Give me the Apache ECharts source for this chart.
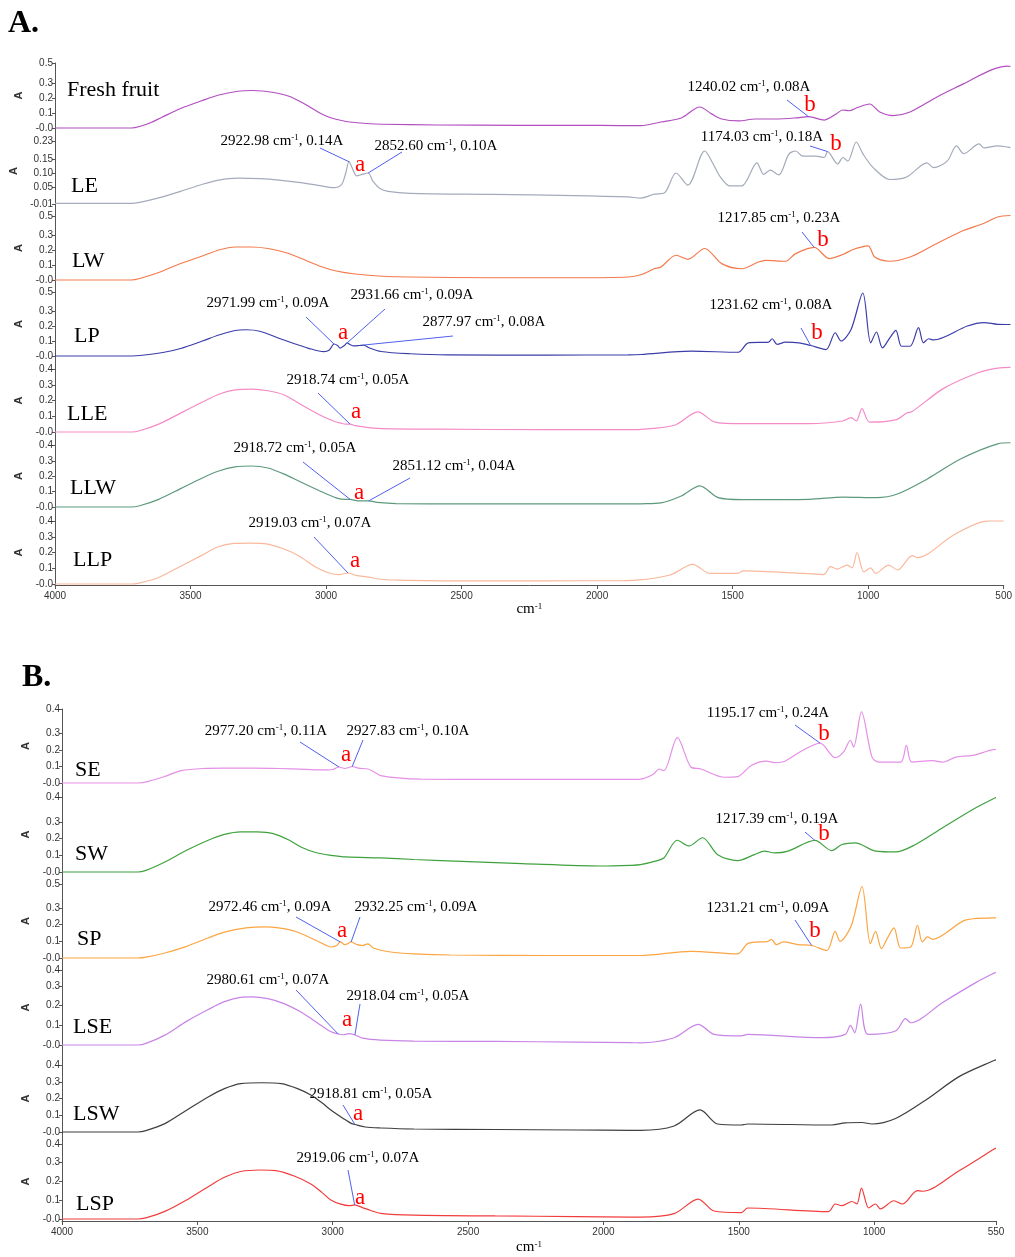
<!DOCTYPE html>
<html>
<head>
<meta charset="utf-8">
<script src="https://cdn.jsdelivr.net/npm/echarts@6/dist/echarts.min.js"></script>
<style>
  html, body { margin: 0; padding: 0; background: #fff; }
  #main { width: 1015px; height: 1257px; }
</style>
</head>
<body>
<div id="main"></div>
<script>
// ===== 数据：波数 (cm-1) 与吸光度 (A) =====
var xTicksA = [500, 1000, 1500, 2000, 2500, 3000, 3500, 4000];
var xTicksB = [550, 1000, 1500, 2000, 2500, 3000, 3500, 4000];

var namesA = ['Fresh fruit', 'LE', 'LW', 'LP', 'LLE', 'LLW', 'LLP'];
var namesB = ['SE', 'SW', 'SP', 'LSE', 'LSW', 'LSP'];

// y 轴刻度值与刻度文字（最后一个刻度在坐标轴顶端）
var yTicksLE = [-0.01, 0.05, 0.10, 0.15];
var yLabelsLE = ['-0.01', '0.05', '0.10', '0.15', '0.23'];
var yTicks = [0, 0.1, 0.2, 0.3];
var yLabels5 = ['-0.0', '0.1', '0.2', '0.3', '0.5'];
var yLabels4 = ['-0.0', '0.1', '0.2', '0.3', '0.4'];

var freshFruit = [[4000,0],[3720,0],[3690,0.01],[3650,0.035],[3610,0.07],[3540,0.13],[3465,0.18],[3400,0.22],[3330,0.245],[3280,0.25],[3230,0.245],[3180,0.23],[3140,0.21],[3100,0.175],[3067,0.14],[3030,0.1],[2993,0.07],[2950,0.05],[2920,0.04],[2860,0.03],[2800,0.025],[2600,0.02],[2300,0.018],[2000,0.017],[1854,0.016],[1780,0.04],[1706,0.067],[1638,0.14],[1595,0.094],[1558,0.06],[1497,0.047],[1435,0.06],[1361,0.06],[1287,0.067],[1240,0.076],[1182,0.053],[1139,0.093],[1115,0.12],[1090,0.115],[1065,0.133],[1016,0.16],[979,0.107],[930,0.083],[868,0.107],[769,0.207],[671,0.296],[572,0.386],[510,0.413],[500,0.41]];
var le = [[4000,-0.008],[3720,-0.008],[3690,-0.004],[3620,0.012],[3540,0.035],[3460,0.06],[3400,0.075],[3330,0.082],[3250,0.08],[3180,0.075],[3100,0.066],[3030,0.055],[2980,0.048],[2950,0.06],[2935,0.1],[2923,0.14],[2910,0.115],[2895,0.09],[2875,0.095],[2853,0.1],[2835,0.07],[2810,0.045],[2780,0.035],[2700,0.028],[2400,0.024],[2100,0.02],[1900,0.015],[1854,0.011],[1805,0.025],[1768,0.029],[1725,0.1],[1682,0.057],[1620,0.178],[1589,0.132],[1565,0.089],[1527,0.054],[1484,0.054],[1429,0.136],[1404,0.095],[1380,0.11],[1349,0.093],[1312,0.167],[1287,0.178],[1262,0.16],[1213,0.16],[1182,0.155],[1170,0.176],[1133,0.132],[1114,0.155],[1096,0.142],[1065,0.21],[1040,0.167],[1003,0.119],[942,0.077],[880,0.086],[806,0.136],[782,0.119],[732,0.142],[698,0.196],[671,0.169],[615,0.203],[597,0.189],[547,0.196],[510,0.192],[500,0.19]];
var lw = [[4000,0],[3720,0],[3690,0.01],[3620,0.05],[3540,0.11],[3460,0.16],[3400,0.2],[3340,0.22],[3280,0.22],[3220,0.21],[3150,0.18],[3080,0.13],[3026,0.09],[2970,0.06],[2900,0.04],[2800,0.025],[2700,0.02],[2400,0.015],[2100,0.015],[1900,0.02],[1854,0.035],[1805,0.075],[1780,0.087],[1725,0.165],[1682,0.138],[1620,0.21],[1558,0.109],[1484,0.075],[1423,0.12],[1398,0.131],[1324,0.125],[1287,0.176],[1219,0.217],[1164,0.143],[1114,0.17],[1077,0.203],[1022,0.227],[997,0.153],[942,0.125],[868,0.153],[794,0.22],[683,0.322],[597,0.378],[547,0.42],[500,0.43]];
var lp = [[4000,0],[3720,0],[3680,0.005],[3600,0.025],[3540,0.05],[3460,0.1],[3400,0.14],[3340,0.17],[3300,0.175],[3250,0.165],[3172,0.113],[3120,0.08],[3074,0.053],[3015,0.029],[2995,0.04],[2978,0.08],[2965,0.07],[2956,0.053],[2940,0.07],[2930,0.087],[2918,0.075],[2905,0.067],[2885,0.07],[2870,0.073],[2850,0.055],[2806,0.03],[2700,0.015],[2561,0.007],[2200,0.006],[1900,0.008],[1854,0.01],[1669,0.032],[1497,0.025],[1460,0.088],[1386,0.093],[1373,0.115],[1355,0.077],[1324,0.093],[1275,0.088],[1232,0.07],[1176,0.043],[1142,0.155],[1121,0.1],[1084,0.177],[1041,0.42],[1012,0.088],[991,0.16],[969,0.054],[942,0.121],[920,0.171],[899,0.065],[868,0.065],[837,0.189],[819,0.088],[800,0.115],[782,0.107],[658,0.2],[597,0.223],[547,0.211],[500,0.21]];
var lle = [[4000,0],[3720,0],[3690,0.008],[3620,0.05],[3540,0.12],[3460,0.19],[3400,0.24],[3340,0.268],[3280,0.272],[3220,0.262],[3160,0.235],[3100,0.175],[3030,0.108],[2980,0.07],[2950,0.055],[2935,0.05],[2919,0.05],[2900,0.04],[2850,0.028],[2800,0.022],[2600,0.018],[2200,0.015],[1900,0.015],[1854,0.017],[1731,0.043],[1645,0.128],[1583,0.063],[1484,0.053],[1238,0.053],[1114,0.07],[1084,0.091],[1065,0.07],[1044,0.149],[1016,0.063],[917,0.079],[880,0.121],[862,0.128],[745,0.277],[621,0.375],[547,0.406],[500,0.41]];
var llw = [[4000,0],[3720,0],[3690,0.008],[3620,0.05],[3540,0.12],[3460,0.19],[3400,0.235],[3340,0.262],[3280,0.268],[3220,0.255],[3160,0.215],[3100,0.163],[3030,0.105],[2970,0.06],[2935,0.05],[2919,0.05],[2890,0.04],[2851,0.04],[2820,0.03],[2750,0.022],[2500,0.02],[2200,0.02],[1900,0.02],[1854,0.021],[1780,0.027],[1706,0.072],[1638,0.138],[1571,0.061],[1484,0.048],[1238,0.05],[1114,0.065],[991,0.061],[917,0.083],[806,0.182],[683,0.314],[547,0.413],[500,0.42]];
var llp = [[4000,0],[3720,0],[3690,0.006],[3620,0.04],[3540,0.11],[3460,0.18],[3400,0.235],[3340,0.258],[3280,0.26],[3220,0.255],[3160,0.225],[3100,0.178],[3040,0.11],[2990,0.07],[2950,0.06],[2919,0.07],[2890,0.055],[2843,0.044],[2800,0.03],[2733,0.025],[2500,0.02],[2200,0.02],[1900,0.022],[1854,0.024],[1731,0.057],[1647,0.124],[1583,0.067],[1484,0.067],[1460,0.083],[1238,0.067],[1164,0.06],[1139,0.11],[1114,0.095],[1077,0.12],[1059,0.103],[1041,0.2],[1016,0.077],[991,0.103],[973,0.067],[924,0.12],[892,0.089],[837,0.18],[819,0.168],[683,0.313],[572,0.398],[547,0.4],[500,0.4]];

var se = [[4000,0],[3720,0],[3680,0.01],[3620,0.04],[3560,0.075],[3480,0.088],[3400,0.09],[3300,0.09],[3200,0.088],[3100,0.083],[3044,0.079],[3000,0.082],[2977,0.097],[2955,0.088],[2940,0.095],[2928,0.1],[2905,0.09],[2870,0.085],[2850,0.07],[2823,0.045],[2750,0.03],[2675,0.024],[2400,0.022],[2100,0.022],[1900,0.022],[1863,0.024],[1814,0.055],[1795,0.085],[1777,0.075],[1727,0.275],[1677,0.097],[1640,0.085],[1553,0.035],[1504,0.039],[1454,0.106],[1398,0.132],[1367,0.124],[1330,0.132],[1268,0.194],[1200,0.242],[1144,0.153],[1113,0.188],[1088,0.259],[1076,0.218],[1047,0.431],[1008,0.157],[983,0.127],[902,0.127],[881,0.228],[861,0.127],[784,0.136],[747,0.127],[698,0.157],[636,0.167],[561,0.202],[550,0.203]];
var sw = [[4000,0],[3720,0],[3690,0.01],[3620,0.06],[3540,0.13],[3460,0.19],[3400,0.225],[3340,0.24],[3280,0.24],[3220,0.23],[3160,0.19],[3118,0.15],[3060,0.115],[3007,0.1],[2950,0.09],[2823,0.084],[2700,0.075],[2500,0.062],[2300,0.05],[2011,0.036],[1900,0.04],[1863,0.044],[1801,0.068],[1777,0.084],[1727,0.19],[1684,0.156],[1634,0.205],[1578,0.104],[1504,0.068],[1442,0.104],[1405,0.125],[1367,0.114],[1318,0.125],[1219,0.189],[1157,0.128],[1119,0.165],[1070,0.175],[995,0.125],[921,0.12],[847,0.165],[747,0.265],[623,0.386],[555,0.443],[550,0.445]];
var sp = [[4000,0],[3720,0],[3690,0.005],[3620,0.03],[3540,0.07],[3460,0.12],[3400,0.155],[3320,0.18],[3250,0.186],[3200,0.18],[3140,0.16],[3081,0.12],[3030,0.08],[3007,0.066],[2985,0.075],[2972,0.096],[2955,0.08],[2945,0.085],[2932,0.096],[2910,0.08],[2890,0.075],[2870,0.085],[2850,0.06],[2786,0.036],[2700,0.025],[2565,0.018],[2200,0.015],[1900,0.015],[1863,0.015],[1677,0.04],[1504,0.025],[1467,0.086],[1392,0.1],[1380,0.112],[1361,0.08],[1336,0.096],[1281,0.08],[1231,0.075],[1175,0.045],[1144,0.16],[1126,0.1],[1085,0.192],[1045,0.428],[1014,0.086],[995,0.16],[973,0.056],[952,0.116],[927,0.18],[902,0.06],[865,0.066],[840,0.196],[822,0.096],[803,0.126],[784,0.112],[660,0.228],[555,0.24],[550,0.24]];
var lse = [[4000,0],[3720,0],[3690,0.008],[3620,0.05],[3540,0.12],[3460,0.18],[3400,0.22],[3340,0.242],[3300,0.244],[3240,0.235],[3180,0.21],[3118,0.168],[3080,0.135],[3044,0.1],[3010,0.07],[2980,0.056],[2960,0.052],[2940,0.058],[2918,0.051],[2890,0.035],[2823,0.025],[2700,0.02],[2400,0.018],[2100,0.015],[1900,0.012],[1863,0.011],[1739,0.037],[1650,0.105],[1591,0.054],[1491,0.046],[1467,0.054],[1194,0.037],[1107,0.054],[1088,0.1],[1072,0.062],[1050,0.207],[1023,0.054],[921,0.071],[884,0.134],[865,0.113],[747,0.216],[623,0.318],[555,0.366],[550,0.368]];
var lsw = [[4000,0],[3720,0],[3690,0.008],[3620,0.05],[3540,0.13],[3460,0.21],[3400,0.26],[3340,0.29],[3260,0.295],[3190,0.29],[3130,0.26],[3081,0.222],[3040,0.175],[3007,0.132],[2960,0.08],[2930,0.05],[2918,0.045],[2880,0.03],[2823,0.024],[2700,0.018],[2400,0.015],[2100,0.012],[1900,0.01],[1863,0.01],[1739,0.036],[1643,0.132],[1578,0.048],[1491,0.042],[1467,0.048],[1157,0.042],[1107,0.055],[1045,0.057],[1008,0.048],[921,0.081],[809,0.192],[685,0.333],[555,0.43],[550,0.432]];
var lsp = [[4000,0],[3720,0],[3690,0.006],[3620,0.04],[3540,0.1],[3460,0.17],[3400,0.22],[3340,0.25],[3270,0.258],[3210,0.255],[3140,0.225],[3081,0.184],[3040,0.14],[3007,0.1],[2970,0.078],[2940,0.07],[2919,0.074],[2890,0.06],[2860,0.045],[2823,0.03],[2700,0.02],[2400,0.016],[2100,0.013],[1900,0.01],[1863,0.01],[1739,0.028],[1650,0.105],[1591,0.042],[1491,0.034],[1467,0.058],[1169,0.039],[1144,0.079],[1119,0.07],[1082,0.092],[1064,0.079],[1047,0.163],[1020,0.058],[995,0.079],[977,0.053],[927,0.096],[896,0.079],[840,0.149],[822,0.146],[685,0.255],[555,0.37],[550,0.372]];

// 峰位标注：所在条带、文字、文字中心、引线起点(像素)、峰点(波数, 吸光度)
var notesA = [
  { s: 0, t: '1240.02', v: '0.08', tx: 749, ty: 87, lx: 787, ly: 100, pt: [1240, 0.076] },
  { s: 1, t: '2922.98', v: '0.14', tx: 282, ty: 141, lx: 320, ly: 148, pt: [2923, 0.14] },
  { s: 1, t: '2852.60', v: '0.10', tx: 436, ty: 146, lx: 402, ly: 152, pt: [2853, 0.1] },
  { s: 1, t: '1174.03', v: '0.18', tx: 762, ty: 137, lx: 810, ly: 146, pt: [1170, 0.176] },
  { s: 2, t: '1217.85', v: '0.23', tx: 779, ty: 218, lx: 802, ly: 232, pt: [1219, 0.217] },
  { s: 3, t: '2971.99', v: '0.09', tx: 268, ty: 303, lx: 306, ly: 317, pt: [2978, 0.08] },
  { s: 3, t: '2931.66', v: '0.09', tx: 412, ty: 295, lx: 385, ly: 309, pt: [2930, 0.087] },
  { s: 3, t: '2877.97', v: '0.08', tx: 484, ty: 322, lx: 453, ly: 336, pt: [2870, 0.073] },
  { s: 3, t: '1231.62', v: '0.08', tx: 771, ty: 305, lx: 801, ly: 328, pt: [1232, 0.07] },
  { s: 4, t: '2918.74', v: '0.05', tx: 348, ty: 380, lx: 318, ly: 393, pt: [2919, 0.05] },
  { s: 5, t: '2918.72', v: '0.05', tx: 295, ty: 448, lx: 303, ly: 462, pt: [2919, 0.05] },
  { s: 5, t: '2851.12', v: '0.04', tx: 454, ty: 466, lx: 410, ly: 478, pt: [2851, 0.04] },
  { s: 6, t: '2919.03', v: '0.07', tx: 310, ty: 523, lx: 314, ly: 537, pt: [2919, 0.07] }
];
var notesB = [
  { s: 0, t: '2977.20', v: '0.11', tx: 266, ty: 731, lx: 300, ly: 742, pt: [2977, 0.097] },
  { s: 0, t: '2927.83', v: '0.10', tx: 408, ty: 731, lx: 363, ly: 740, pt: [2928, 0.1] },
  { s: 0, t: '1195.17', v: '0.24', tx: 768, ty: 713, lx: 795, ly: 725, pt: [1200, 0.242] },
  { s: 1, t: '1217.39', v: '0.19', tx: 777, ty: 819, lx: 805, ly: 832, pt: [1219, 0.189] },
  { s: 2, t: '2972.46', v: '0.09', tx: 270, ty: 907, lx: 296, ly: 917, pt: [2972, 0.096] },
  { s: 2, t: '2932.25', v: '0.09', tx: 416, ty: 907, lx: 360, ly: 917, pt: [2932, 0.096] },
  { s: 2, t: '1231.21', v: '0.09', tx: 768, ty: 908, lx: 795, ly: 920, pt: [1231, 0.075] },
  { s: 3, t: '2980.61', v: '0.07', tx: 268, ty: 980, lx: 296, ly: 990, pt: [2980, 0.056] },
  { s: 3, t: '2918.04', v: '0.05', tx: 408, ty: 996, lx: 360, ly: 1004, pt: [2918, 0.051] },
  { s: 4, t: '2918.81', v: '0.05', tx: 371, ty: 1094, lx: 343, ly: 1105, pt: [2918, 0.045] },
  { s: 5, t: '2919.06', v: '0.07', tx: 358, ty: 1158, lx: 348, ly: 1170, pt: [2919, 0.074] }
];
var letters = [
  ['b', 810, 105], ['a', 360, 165], ['b', 836, 144], ['b', 823, 240], ['a', 343, 333], ['b', 817, 333],
  ['a', 356, 412], ['a', 359, 493], ['a', 355, 561],
  ['a', 346, 755], ['b', 824, 734], ['b', 824, 834], ['a', 342, 931], ['b', 815, 931],
  ['a', 347, 1020], ['a', 358, 1114], ['a', 360, 1198]
];

// ===== 版式 =====
var W = 1015;
var SANS = "'Liberation Sans Narrow', 'Arial Narrow', 'Liberation Sans', Arial, sans-serif";
var SERIF = "'Liberation Serif', 'Times New Roman', serif";

var panelA = {
  left: 55, right: 1010.5, xMin: 500, xTicks: xTicksA, bottom: 585, nameGap: 16, aGap: 27,
  tops: [63, 141, 216, 292, 369, 445, 521],
  zeros: [128, 201.2, 280, 356, 432, 507, 584],
  ppu: [150, 282, 150, 150, 157.5, 153, 157.5],
  labelXY: [[67, 91], [71, 187], [72, 262], [74, 337], [67, 415], [70, 489], [73, 561]],
  strips: [
    { name: namesA[0], data: freshFruit, color: '#b24ec0', ticks: yTicks, labels: yLabels5 },
    { name: namesA[1], data: le, color: '#a3abba', ticks: yTicksLE, labels: yLabelsLE },
    { name: namesA[2], data: lw, color: '#f47a4c', ticks: yTicks, labels: yLabels5 },
    { name: namesA[3], data: lp, color: '#3b3da8', ticks: yTicks, labels: yLabels5 },
    { name: namesA[4], data: lle, color: '#f58bc6', ticks: yTicks, labels: yLabels4 },
    { name: namesA[5], data: llw, color: '#5d9a7c', ticks: yTicks, labels: yLabels4 },
    { name: namesA[6], data: llp, color: '#f9b89b', ticks: yTicks, labels: yLabels4 }
  ],
  notes: notesA
};
var panelB = {
  left: 62, right: 996, xMin: 550, xTicks: xTicksB, bottom: 1221, nameGap: 19, aGap: 25,
  tops: [709, 797, 884, 970, 1065, 1144],
  zeros: [783, 872, 958, 1045, 1132, 1219],
  ppu: [165, 167, 167, 197, 167, 190],
  labelXY: [[75, 771], [75, 855], [77, 940], [73, 1028], [73, 1115], [76, 1205]],
  strips: [
    { name: namesB[0], data: se, color: '#e58fe6', ticks: yTicks, labels: yLabels4 },
    { name: namesB[1], data: sw, color: '#3fa23f', ticks: yTicks, labels: yLabels4 },
    { name: namesB[2], data: sp, color: '#fba543', ticks: yTicks, labels: yLabels5 },
    { name: namesB[3], data: lse, color: '#c884e6', ticks: yTicks, labels: yLabels4 },
    { name: namesB[4], data: lsw, color: '#3f3f3f', ticks: yTicks, labels: yLabels4 },
    { name: namesB[5], data: lsp, color: '#f23d3d', ticks: yTicks, labels: yLabels4 }
  ],
  notes: notesB
};

var grids = [], xAxes = [], yAxes = [], series = [], graphics = [];

function labelFormatter(vals, labels) {
  return function (v) {
    for (var i = 0; i < vals.length; i++) {
      if (Math.abs(vals[i] - v) < 1e-6) return labels[i];
    }
    return '';
  };
}

function addPanel(p) {
  var n = p.strips.length;
  var first = grids.length;
  for (var k = 0; k < n; k++) {
    var s = p.strips[k];
    var top = p.tops[k], zero = p.zeros[k], ppu = p.ppu[k];
    var bot = k < n - 1 ? p.tops[k + 1] : p.bottom;
    var yMax = (zero - top) / ppu;
    var yMin = (zero - bot) / ppu;
    var isLast = k === n - 1;
    var tv = s.ticks.concat([yMax]);

    grids.push({ left: p.left, width: p.right - p.left, top: top, height: bot - top });

    xAxes.push({
      gridIndex: first + k,
      type: 'value',
      inverse: true,
      min: p.xMin,
      max: 4000,
      show: isLast,
      axisLine: { show: true, onZero: false, lineStyle: { color: '#555', width: 1 } },
      axisTick: { show: true, length: 4, customValues: p.xTicks, lineStyle: { color: '#555' } },
      axisLabel: {
        customValues: p.xTicks, margin: 6, fontSize: 10, color: '#333', fontFamily: SANS,
        showMinLabel: true, showMaxLabel: true,
        formatter: function (v) { return String(v); }
      },
      splitLine: { show: false },
      name: isLast ? 'cm{s|-1}' : '',
      nameLocation: 'middle',
      nameGap: p.nameGap,
      nameTextStyle: {
        fontFamily: SERIF, fontSize: 15, color: '#000',
        rich: { s: { fontFamily: SERIF, fontSize: 9, verticalAlign: 'top', color: '#000' } }
      }
    });

    yAxes.push({
      gridIndex: first + k,
      type: 'value',
      min: yMin,
      max: yMax,
      axisLine: { show: true, onZero: false, lineStyle: { color: '#555', width: 1 } },
      axisTick: { show: true, length: 3, customValues: tv, lineStyle: { color: '#555' } },
      axisLabel: {
        customValues: tv, margin: 2, fontSize: 10, color: '#333', fontFamily: SANS,
        showMinLabel: true, showMaxLabel: true,
        formatter: labelFormatter(tv, s.labels)
      },
      splitLine: { show: false },
      name: 'A',
      nameLocation: 'middle',
      nameRotate: 90,
      nameGap: p.aGap,
      nameTextStyle: {
        fontFamily: "'Liberation Sans', Arial, sans-serif", fontWeight: 'bold', fontSize: 11, color: '#333',
        padding: [0, 0, 0, (bot - zero)]
      }
    });

    // 该条带的标注引线
    var lines = p.notes.filter(function (d) { return d.s === k; }).map(function (d) {
      return [{ x: d.lx, y: d.ly }, { coord: d.pt }];
    });

    series.push({
      name: s.name,
      type: 'line',
      xAxisIndex: first + k,
      yAxisIndex: first + k,
      data: s.data,
      showSymbol: false,
      symbol: 'none',
      smooth: 0.3,
      clip: false,
      silent: true,
      lineStyle: { color: s.color, width: 1.2 },
      itemStyle: { color: s.color },
      markLine: {
        silent: true,
        symbol: ['none', 'none'],
        label: { show: false },
        lineStyle: { color: '#5060ee', width: 1, type: 'solid' },
        data: lines
      }
    });

    // 条带名称
    graphics.push({
      type: 'text', left: p.labelXY[k][0], top: p.labelXY[k][1] - 12,
      style: { text: s.name, font: '22px ' + SERIF, fill: '#000' }
    });
  }

  // 标注文字
  p.notes.forEach(function (d) {
    graphics.push({
      type: 'text', x: d.tx, y: d.ty,
      style: {
        text: d.t + ' cm{s|-1}, ' + d.v + 'A',
        font: '15px ' + SERIF, fill: '#000', align: 'center', verticalAlign: 'middle',
        rich: { s: { font: '9px ' + SERIF, fill: '#000', verticalAlign: 'top' } }
      }
    });
  });
}

addPanel(panelA);
addPanel(panelB);

// 红色字母 a / b
letters.forEach(function (l) {
  graphics.push({
    type: 'text', x: l[1], y: l[2],
    style: { text: l[0], font: '23px ' + SERIF, fill: '#ff0000', align: 'center', verticalAlign: 'middle' }
  });
});

// 分图标记
graphics.push({ type: 'text', x: 8, y: 8, style: { text: 'A.', font: 'bold 32px ' + SERIF, fill: '#000' } });
graphics.push({ type: 'text', x: 22, y: 662, style: { text: 'B.', font: 'bold 32px ' + SERIF, fill: '#000' } });

var myChart = echarts.init(document.getElementById('main'));
var option = {
  animation: false,
  backgroundColor: '#fff',
  grid: grids,
  xAxis: xAxes,
  yAxis: yAxes,
  series: series,
  graphic: graphics
};
myChart.setOption(option);
window.addEventListener('resize', function () {
  myChart.resize();
});
</script>
</body>
</html>
